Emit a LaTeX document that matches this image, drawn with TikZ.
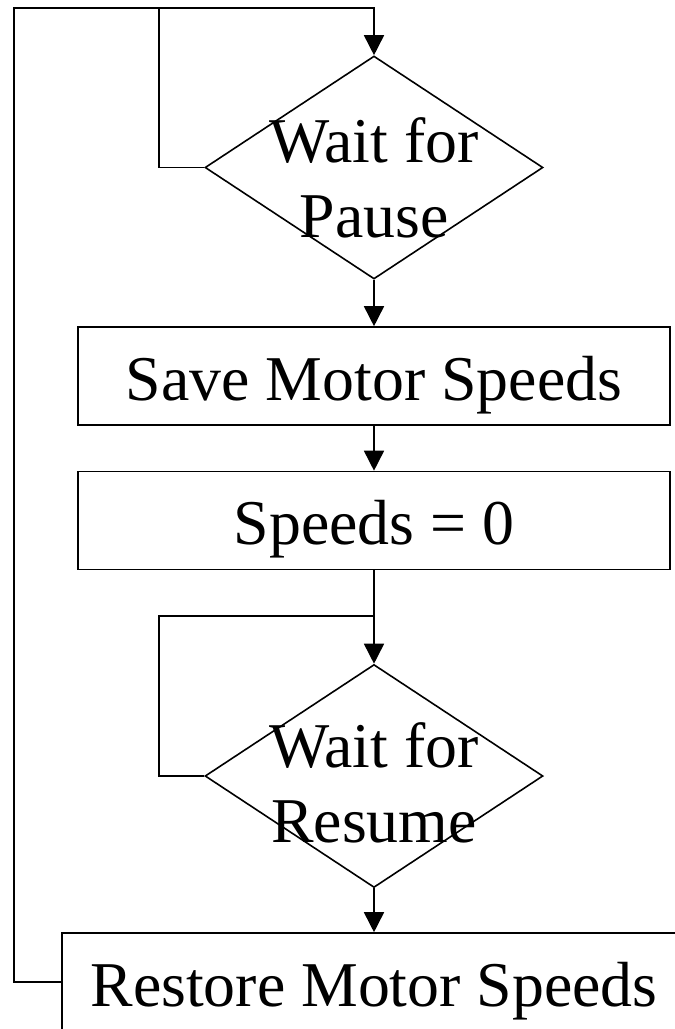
\documentclass[tikz,border=0pt]{standalone}
\usepackage{fontspec}
\setmainfont{Liberation Serif}
\usetikzlibrary{shapes.geometric,arrows.meta}

\tikzset{
  flow/.style={line width=0.8pt, draw=black},
  arr/.style={flow, -{Triangle[length=10pt,width=10pt]}},
  label font/.style={font=\fontsize{31.9}{37.7}\selectfont},
  stepbox/.style={flow, rectangle, inner sep=0pt, minimum height=49pt,
    label font, text height=24pt, text depth=0pt},
  decision/.style={flow, diamond, inner sep=0pt, minimum width=169pt,
    minimum height=111.5pt},
  decisiontext/.style={label font, align=center, inner sep=0pt}
}

\begin{document}
\begin{tikzpicture}[x=0.5pt, y=-0.5pt]
  \clip (0,0) rectangle (675,1029);

  % decisions and processing steps
  \node[decision] (d1) at (374,167.5) {};
  \node[decisiontext] (d1t) at (374,178) {Wait for\\Pause};
  \node[stepbox, minimum width=296pt] (b1) at (374,376) {Save Motor Speeds};
  \node[stepbox, minimum width=296pt] (b2) at (374,520.5) {Speeds = 0};
  \node[decision] (d2) at (374,776) {};
  \node[decisiontext] (d2t) at (374,783) {Wait for\\Resume};
  \node[stepbox, minimum width=312pt] (b3) at (374,982) {Restore Motor Speeds};

  % loop-back points
  \coordinate (t0) at (14,8);
  \coordinate (t1) at (159,8);
  \coordinate (l2) at (159,616);

  % main flow
  \draw[arr] (d1.south) -- (b1.north);
  \draw[arr] (b1.south) -- (b2.north);
  \draw[arr] (b2.south) -- (d2.north);
  \draw[arr] (d2.south) -- (b3.north);

  % waiting loops
  \draw[flow] (d1.west) -| (t1);
  \draw[flow] (d2.west) -| (l2) -- (l2 -| d2.north);

  % return to the start
  \draw[arr] (b3.west) -| (t0) -| (d1.north);
\end{tikzpicture}
\end{document}
